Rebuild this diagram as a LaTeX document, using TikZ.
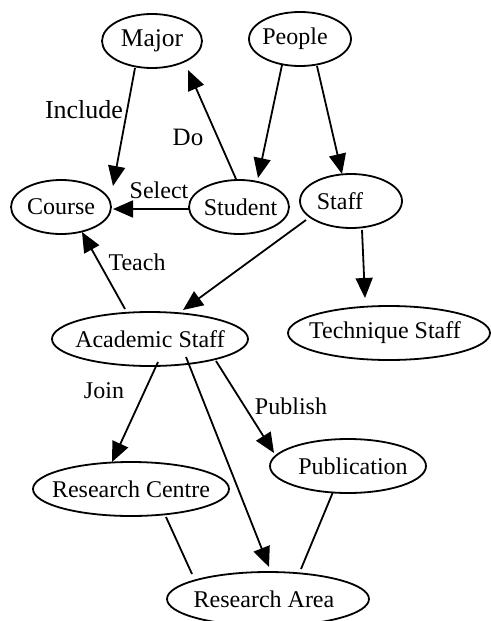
\documentclass[tikz,border=0pt]{standalone}
\usepackage{fontspec}
\setmainfont{Liberation Serif}
\usetikzlibrary{arrows.meta,calc,shapes.geometric}
% zero-width box so that the ellipse size comes from minimum width/height only;
% the optional argument moves the text sideways by half its value
\newcommand\etxt[2][0pt]{\makebox[0pt]{\kern#1#2}}
\begin{document}
\begin{tikzpicture}[x=1pt,y=-1pt,
  every node/.style={font=\fontsize{24}{27}\selectfont},
  ent/.style={draw,ellipse,line width=1.8pt,inner sep=0pt,minimum height=54pt},
  e50/.style={ent,minimum width=100pt},
  rel/.style={line width=1.8pt,-{Triangle[length=20pt,width=17pt]}},
  assoc/.style={line width=1.8pt},
  lbl/.style={inner sep=0pt}]
\useasboundingbox (0,0) rectangle (490,621);

% entities
\node[e50] (major) at (152,41) {\etxt{\fontsize{25.5}{28}\selectfont Major}};
\node[e50,minimum width=102pt] (people) at (300,39) {\etxt[-10pt]{People}};
\node[e50] (course) at (61,207) {\etxt{Course}};
\node[e50] (student) at (239,207) {\etxt[3pt]{Student}};
\node[e50,minimum width=102pt] (staff) at (351,201) {\etxt[-22pt]{Staff}};
\node[ent,minimum width=196pt] (acad) at (150,339) {\etxt{Academic Staff}};
\node[ent,minimum width=202pt] (tech) at (389,333) {\etxt[-8pt]{Technique Staff}};
\node[ent,minimum width=156pt] (pub) at (348,466) {\etxt[10pt]{Publication}};
\node[ent,minimum width=196pt] (centre) at (131,489) {\etxt{Research Centre}};
\node[ent,minimum width=202pt] (area) at (268,599) {\etxt[-8pt]{Research Area}};

% relationships
\draw[rel] ($(major)+(-17,27)$) -- ($(course)+(52,-21)$);
\draw[rel] ($(student)+(-3,-28)$) -- ($(major)+(36,29)$);
\draw[rel] ($(people)+(-18,26)$) -- ($(student)+(19,-29)$);
\draw[rel] ($(people)+(17,27)$) -- ($(staff)+(-9,-27)$);
\draw[rel] ($(student)+(-50,2)$) -- ($(course)+(52,2)$);
\draw[rel] ($(staff)+(-45,19)$) -- ($(acad)+(33,-29)$);
\draw[rel] ($(staff)+(11,29)$) -- ($(tech)+(-24,-35)$);
\draw[rel] ($(acad)+(-25,-30)$) -- ($(course)+(21,25)$);
\draw[rel] ($(acad)+(8,23)$) -- ($(centre)+(-19,-27)$);
\draw[rel] ($(acad)+(36,18)$) -- ($(area)+(1,-32)$);
\draw[rel] ($(acad)+(66,22)$) -- ($(pub)+(-74,-13)$);
\draw[assoc] ($(centre)+(35,28)$) -- ($(area)+(-76,-25)$);
\draw[assoc] ($(pub)+(-15,26)$) -- ($(area)+(33,-30)$);

% labels
\node[lbl] (l-include) at (84,110) {\fontsize{26}{28}\selectfont Include};
\node[lbl] (l-do) at (188,137) {\fontsize{25}{28}\selectfont Do};
\node[lbl] (l-select) at (159,190) {Select};
\node[lbl] (l-teach) at (137,262) {Teach};
\node[lbl] (l-join) at (104,391) {Join};
\node[lbl] (l-publish) at (291,406) {Publish};
\end{tikzpicture}
\end{document}
